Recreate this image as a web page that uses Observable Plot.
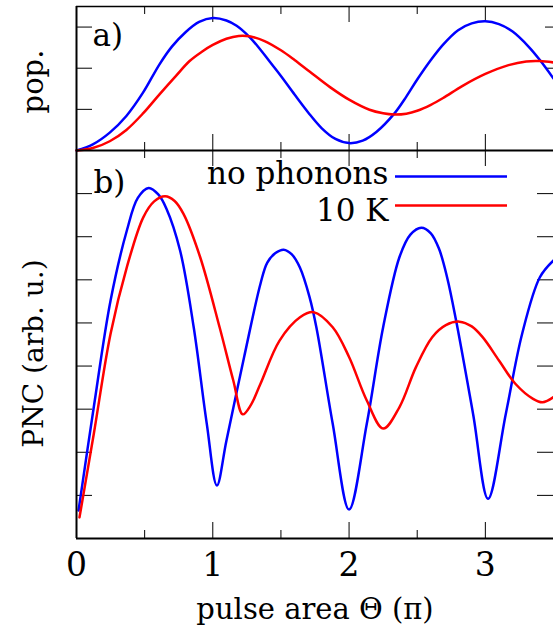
<!DOCTYPE html>
<html>
<head>
<meta charset="utf-8">
<script src="https://cdn.jsdelivr.net/npm/d3@7"></script>
<script src="https://cdn.jsdelivr.net/npm/@observablehq/plot@0.6"></script>
<style>
  html, body { margin: 0; padding: 0; background: #fff; }
  #chart { position: relative; width: 553px; height: 627px; overflow: hidden; }
  #chart svg { position: absolute; left: 0; top: 0; }
</style>
</head>
<body>
<div id="chart"></div>
<script>
// ---------- data ----------
const seriesNames = ["no phonons", "10 K"];
const seriesColors = ["#0000ff", "#ff0000"];

// panel a) population
const popBlueTheta = [0, 0.12, 0.244, 0.366, 0.488, 0.609, 0.7, 0.8, 0.9, 1.0, 1.1, 1.175, 1.27, 1.35, 1.42, 1.5, 1.6, 1.7, 1.8, 1.9, 2.0, 2.1, 2.2, 2.33, 2.42, 2.5, 2.6, 2.69, 2.8, 2.9, 3.0, 3.1, 3.2, 3.32, 3.4, 3.5];
const popBlueValue = [0, 0.03, 0.087, 0.168, 0.281, 0.419, 0.505, 0.575, 0.625, 0.644, 0.632, 0.606, 0.551, 0.49, 0.43, 0.362, 0.272, 0.185, 0.108, 0.056, 0.036, 0.048, 0.09, 0.178, 0.262, 0.345, 0.44, 0.515, 0.585, 0.618, 0.628, 0.614, 0.578, 0.503, 0.44, 0.35];
const popRedTheta = [0, 0.12, 0.244, 0.366, 0.488, 0.609, 0.73, 0.83, 0.92, 1.0, 1.1, 1.19, 1.27, 1.38, 1.5, 1.6, 1.71, 1.86, 2.0, 2.15, 2.25, 2.33, 2.42, 2.5, 2.6, 2.69, 2.83, 3.0, 3.17, 3.3, 3.4, 3.5];
const popRedValue = [0, 0.012, 0.045, 0.1, 0.18, 0.273, 0.363, 0.435, 0.48, 0.513, 0.543, 0.557, 0.555, 0.532, 0.487, 0.44, 0.384, 0.308, 0.247, 0.198, 0.181, 0.175, 0.179, 0.193, 0.222, 0.255, 0.313, 0.372, 0.415, 0.433, 0.435, 0.428];

// panel b) PNC
const pncBlueTheta = [0.015, 0.127, 0.25, 0.37, 0.45, 0.53, 0.6, 0.66, 0.76, 0.86, 0.956, 1.03, 1.10, 1.23, 1.35, 1.40, 1.46, 1.52, 1.58, 1.64, 1.71, 1.76, 1.88, 2.0, 2.13, 2.25, 2.37, 2.45, 2.53, 2.6, 2.66, 2.72, 2.785, 2.91, 3.02, 3.15, 3.27, 3.40, 3.5];
const pncBlueValue = [0.65, 3.05, 5.52, 7.15, 7.9, 8.13, 7.98, 7.65, 6.68, 4.9, 2.66, 1.23, 2.27, 4.21, 5.91, 6.4, 6.62, 6.7, 6.59, 6.28, 5.6, 4.9, 2.66, 0.67, 2.66, 4.9, 6.53, 7.05, 7.21, 7.08, 6.72, 6.05, 5.06, 2.89, 0.92, 2.89, 4.75, 6.06, 6.45];
const pncRedTheta = [0.022, 0.127, 0.25, 0.37, 0.49, 0.57, 0.65, 0.72, 0.785, 0.907, 1.05, 1.15, 1.22, 1.28, 1.35, 1.49, 1.64, 1.74, 1.88, 2.0, 2.13, 2.25, 2.37, 2.49, 2.61, 2.71, 2.81, 2.9, 2.98, 3.10, 3.22, 3.35, 3.42, 3.5];
const pncRedValue = [0.49, 2.43, 4.75, 6.3, 7.45, 7.82, 7.94, 7.83, 7.53, 6.53, 4.9, 3.67, 2.88, 3.1, 3.59, 4.59, 5.13, 5.25, 4.9, 4.21, 3.2, 2.55, 3.05, 3.97, 4.67, 4.95, 5.03, 4.92, 4.67, 4.13, 3.59, 3.24, 3.16, 3.28];

const xDomain = [0, 3.5];
const xMajorTicks = [0, 1, 2, 3];
const xMinorTicks = [0.5, 1.5, 2.5, 3.5];
const xTickLabels = ["0", "1", "2", "3"];
const popDomain = [0, 0.7];
const popTicks = [0.2, 0.4, 0.6];
const pncDomain = [0, 9];
const pncTicks = [1, 2, 3, 4, 5, 6, 7, 8];
const panelLabels = ["a)", "b)"];
const yLabels = ["pop.", "PNC (arb. u.)"];
const xLabel = "pulse area Θ (π)";

// ---------- layout ----------
const W = 553, H = 627;
const ML = 76, MR = 0;
const topTop = 6, split = 150, bottomY = 538;
const innerW = W - ML - MR;
const FONT = "DejaVu Serif";
const LW = 2.5;

const zip = (xs, ys) => xs.map((t, i) => ({t, v: ys[i]}));

function frameTicks(innerH, yTicks, rightLen) {
  const major = 16, minor = 8;
  return [
    Plot.tickX(xMajorTicks, {x: d => d, insetTop: innerH - major, stroke: "#000", strokeWidth: 1}),
    Plot.tickX(xMajorTicks, {x: d => d, insetBottom: innerH - major, stroke: "#000", strokeWidth: 1}),
    Plot.tickX(xMinorTicks, {x: d => d, insetTop: innerH - minor, stroke: "#000", strokeWidth: 1}),
    Plot.tickX(xMinorTicks, {x: d => d, insetBottom: innerH - minor, stroke: "#000", strokeWidth: 1}),
    Plot.tickY(yTicks, {y: d => d, insetRight: innerW - major, stroke: "#000", strokeWidth: 1}),
    Plot.tickY(yTicks, {y: d => d, insetLeft: innerW - rightLen, stroke: "#000", strokeWidth: 1})
  ];
}

// ---------- panel a ----------
const topH = split + 2;
const topInner = split - topTop;
const plotA = Plot.plot({
  width: W, height: topH,
  marginTop: topTop, marginBottom: topH - split, marginLeft: ML, marginRight: MR,
  x: {domain: xDomain, axis: null},
  y: {domain: popDomain, axis: null},
  style: {background: "transparent", overflow: "visible", fontFamily: FONT},
  marks: [
    ...frameTicks(topInner, popTicks, 8),
    Plot.line(zip(popBlueTheta, popBlueValue), {x: "t", y: "v", stroke: seriesColors[0], strokeWidth: LW, curve: "catmull-rom"}),
    Plot.line(zip(popRedTheta, popRedValue), {x: "t", y: "v", stroke: seriesColors[1], strokeWidth: LW, curve: "catmull-rom"}),
    Plot.ruleX([xDomain[0]], {stroke: "#000", strokeWidth: 2}),
    Plot.ruleY([popDomain[1]], {stroke: "#000", strokeWidth: 1.5}),
    Plot.text([panelLabels[0]], {text: d => d, frameAnchor: "top-left", dx: 16, dy: 39, textAnchor: "start", lineAnchor: "bottom", fontSize: 31, fill: "#000"}),
    Plot.text([yLabels[0]], {text: d => d, frameAnchor: "left", dx: -34, dy: 3, rotate: -90, textAnchor: "middle", lineAnchor: "bottom", fontSize: 29, fill: "#000"})
  ]
});

// ---------- panel b ----------
const botInner = bottomY - split;
const midB = (split + bottomY) / 2;
const plotB = Plot.plot({
  width: W, height: H,
  marginTop: split, marginBottom: H - bottomY, marginLeft: ML, marginRight: MR,
  x: {domain: xDomain, axis: null},
  y: {domain: pncDomain, axis: null},
  style: {background: "transparent", overflow: "visible", fontFamily: FONT},
  marks: [
    ...frameTicks(botInner, pncTicks, 16),
    Plot.line(zip(pncBlueTheta, pncBlueValue), {x: "t", y: "v", stroke: seriesColors[0], strokeWidth: LW, curve: "catmull-rom"}),
    Plot.line(zip(pncRedTheta, pncRedValue), {x: "t", y: "v", stroke: seriesColors[1], strokeWidth: LW, curve: "catmull-rom"}),
    Plot.ruleX([xDomain[0]], {stroke: "#000", strokeWidth: 2}),
    Plot.ruleY([pncDomain[0]], {stroke: "#000", strokeWidth: 2}),
    Plot.ruleY([pncDomain[1]], {stroke: "#000", strokeWidth: 2}),
    Plot.text([panelLabels[1]], {text: d => d, frameAnchor: "top-left", dx: 17, dy: 42, textAnchor: "start", lineAnchor: "bottom", fontSize: 31, fill: "#000"}),
    // legend
    Plot.text([seriesNames[0]], {text: d => d, frameAnchor: "top-left", dx: 312, dy: 33, textAnchor: "end", lineAnchor: "bottom", fontSize: 31, fill: "#000"}),
    Plot.text([seriesNames[1]], {text: d => d, frameAnchor: "top-left", dx: 312, dy: 70, textAnchor: "end", lineAnchor: "bottom", fontSize: 31, fill: "#000"}),
    Plot.ruleY([0], {y: null, dy: 176 - midB, insetLeft: 395 - ML, insetRight: W - 507, stroke: seriesColors[0], strokeWidth: LW}),
    Plot.ruleY([0], {y: null, dy: 205 - midB, insetLeft: 395 - ML, insetRight: W - 507, stroke: seriesColors[1], strokeWidth: LW}),
    // x tick labels and axis label
    Plot.text(xMajorTicks, {x: d => d, text: (d, i) => xTickLabels[i], frameAnchor: "bottom", dy: 37, lineAnchor: "bottom", fontSize: 33, fill: "#000"}),
    Plot.text([xLabel], {text: d => d, frameAnchor: "bottom", dy: 80, lineAnchor: "bottom", fontSize: 29, fill: "#000"}),
    Plot.text([yLabels[1]], {text: d => d, frameAnchor: "left", dx: -34, dy: 9, rotate: -90, textAnchor: "middle", lineAnchor: "bottom", fontSize: 28, fill: "#000"})
  ]
});

const host = document.getElementById("chart");
host.appendChild(plotA);
host.appendChild(plotB);
</script>
</body>
</html>
